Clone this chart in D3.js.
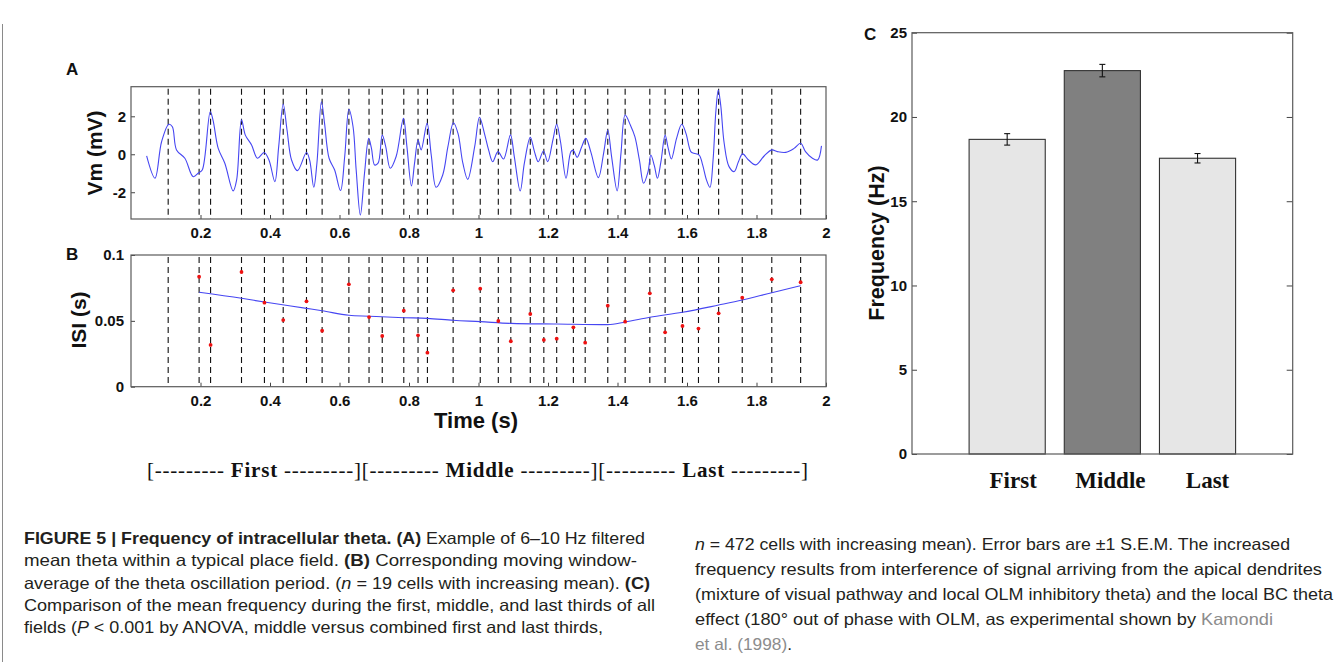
<!DOCTYPE html>
<html>
<head>
<meta charset="utf-8">
<script src="https://cdn.jsdelivr.net/npm/d3@7"></script>
<style>
  body { margin: 0; background: #fff; }
  svg { display: block; }
</style>
</head>
<body>
<svg id="fig" width="1341" height="662"></svg>
<script>
// ---- data ----
// panel A: filtered membrane potential (time in s, Vm in mV)
const traceT = [0.045, 0.069, 0.088, 0.109, 0.119, 0.131, 0.155, 0.179, 0.195, 0.205,
  0.228, 0.236, 0.251, 0.270, 0.294, 0.304, 0.318, 0.329, 0.347, 0.364,
  0.383, 0.397, 0.414, 0.425, 0.438, 0.449, 0.462, 0.479, 0.505, 0.514,
  0.526, 0.535, 0.548, 0.557, 0.570, 0.586, 0.603, 0.615, 0.627, 0.639,
  0.648, 0.660, 0.672, 0.684, 0.692, 0.701, 0.711, 0.723, 0.733, 0.746,
  0.763, 0.784, 0.794, 0.807, 0.816, 0.826, 0.835, 0.852, 0.864, 0.878,
  0.897, 0.912, 0.928, 0.941, 0.955, 0.969, 0.989, 1.003, 1.017, 1.029,
  1.041, 1.056, 1.072, 1.092, 1.103, 1.120, 1.132, 1.149, 1.161, 1.172,
  1.187, 1.199, 1.214, 1.225, 1.236, 1.252, 1.266, 1.273, 1.284, 1.297,
  1.309, 1.323, 1.345, 1.360, 1.372, 1.383, 1.399, 1.410, 1.422, 1.437,
  1.450, 1.463, 1.475, 1.488, 1.496, 1.506, 1.515, 1.525, 1.537, 1.546,
  1.555, 1.570, 1.585, 1.597, 1.611, 1.620, 1.635, 1.645, 1.656, 1.666,
  1.675, 1.683, 1.690, 1.697, 1.707, 1.721, 1.736, 1.748, 1.760, 1.777,
  1.798, 1.822, 1.844, 1.860, 1.884, 1.908, 1.927, 1.941, 1.961, 1.976, 1.987];
const traceV = [-0.09, -1.26, 0.66, 1.58, 1.45, 0.23, -0.21, -1.18, -0.97, -0.83,
  2.24, 1.80, 0.31, -0.47, -1.93, -1.35, 1.81, 1.01, 0.49, -0.21,
  0.09, -0.30, -1.44, 0.40, 2.65, 1.28, -0.30, -0.86, 0.09, -0.30,
  -1.74, -0.47, 2.77, 1.63, -0.21, -0.83, -1.91, -0.12, 2.37, 1.45,
  -0.83, -3.20, -1.00, 0.84, 0.31, -0.56, -0.47, 1.01, 0.40, -0.74,
  -0.12, 1.89, 0.40, -1.67, -0.47, 0.75, 0.23, 1.63, -0.04, -1.74,
  -1.09, 0.40, 1.66, 1.10, -0.47, -1.32, 0.40, 1.95, 1.10, 0.23,
  -0.39, 0.14, -0.25, 1.02, -0.12, -1.93, -0.47, 0.89, 0.14, -0.39,
  0.17, -0.39, 0.75, 1.58, 0.66, -1.26, 0.14, 0.20, -0.16, 0.40,
  0.84, 0.14, -1.23, 0.05, 1.28, -0.12, -1.93, 0.05, 2.07, 1.54,
  0.93, -0.30, -1.53, -0.91, -0.04, -0.60, -1.26, -0.39, 1.01, 0.31,
  -0.25, 0.84, 1.58, 1.10, 0.14, 0.05, -0.04, -0.56, -1.35, -1.74,
  -0.30, 2.24, 3.38, 2.59, 0.58, -0.65, -0.91, -0.39, 0.02, -0.30,
  -0.56, -0.09, 0.23, 0.14, 0.10, 0.31, 0.58, 0.14, -0.21, -0.30, 0.44];

// theta peak times (dashed lines, s)
const peakTimes = [0.107, 0.196, 0.229, 0.318, 0.384, 0.438, 0.505, 0.550, 0.627, 0.685,
  0.723, 0.785, 0.826, 0.853, 0.927, 1.005, 1.057, 1.093, 1.149, 1.188,
  1.225, 1.273, 1.307, 1.372, 1.422, 1.493, 1.537, 1.587, 1.633, 1.691,
  1.759, 1.844, 1.927];

// panel B: inter-peak interval at each peak after the first (s)
const isiValues = [0.0835, 0.0317, 0.0871, 0.0638, 0.0506, 0.0648, 0.0425, 0.0777, 0.0529,
  0.0385, 0.0577, 0.0390, 0.0258, 0.0732, 0.0744, 0.0499, 0.0345, 0.0552, 0.0355,
  0.0365, 0.0451, 0.0334, 0.0615, 0.0494, 0.0709, 0.0413, 0.0461, 0.0441, 0.0557,
  0.0676, 0.0815, 0.0793];

// panel B: moving window average
const avgT = [0.196, 0.318, 0.384, 0.505, 0.550, 0.627, 0.685, 0.785, 0.853, 0.927,
  1.005, 1.093, 1.225, 1.372, 1.422, 1.493, 1.587, 1.691, 1.759, 1.844, 1.927];
const avgV = [0.0717, 0.0671, 0.0643, 0.0595, 0.0577, 0.0542, 0.0535, 0.0524, 0.0519, 0.0504,
  0.0494, 0.0481, 0.0476, 0.0471, 0.0491, 0.0527, 0.0565, 0.0620, 0.0658, 0.0714, 0.0767];

// panel C
const thirds = ["First", "Middle", "Last"];
const freqMean = [18.67, 22.75, 17.55];
const freqSem = [0.34, 0.37, 0.28];
const barFill = ["#e6e6e6", "#808080", "#e6e6e6"];

const timeTicks = [0.2, 0.4, 0.6, 0.8, 1, 1.2, 1.4, 1.6, 1.8, 2];
const vmTicks = [-2, 0, 2];
const isiTicks = [0, 0.05, 0.1];
const freqTicks = [0, 5, 10, 15, 20, 25];

// ---- drawing ----
const svg = d3.select("#fig");
const sans = "Arial, 'Liberation Sans', Helvetica, sans-serif";
const serif = "'Times New Roman', 'Liberation Serif', serif";

svg.append("rect").attr("width", 1341).attr("height", 662).attr("fill", "#fff");
// page frame line on the left
svg.append("line").attr("x1", 2.5).attr("x2", 2.5).attr("y1", 24).attr("y2", 662)
  .attr("stroke", "#8a8a8a").attr("stroke-width", 1);

const xTime = d3.scaleLinear().domain([0, 2]).range([131, 826]);
const yVm = d3.scaleLinear().domain([-3.41, 3.56]).range([219, 86.7]);
const yIsi = d3.scaleLinear().domain([0, 0.1]).range([386.7, 255]);

function styleAxis(g, size) {
  g.attr("font-family", null);
  g.select(".domain").remove();
  g.selectAll(".tick line").attr("stroke", "#444");
  g.selectAll(".tick text")
    .attr("fill", "#111")
    .attr("font-family", sans)
    .attr("font-weight", "bold")
    .attr("font-size", size);
}

function frame(x0, y0, x1, y1) {
  svg.append("rect")
    .attr("x", x0).attr("y", y0).attr("width", x1 - x0).attr("height", y1 - y0)
    .attr("fill", "none").attr("stroke", "#5a5a5a").attr("stroke-width", 1.2);
}

function dashedPeaks(yScale) {
  svg.append("g").selectAll("line").data(peakTimes).join("line")
    .attr("x1", d => xTime(d)).attr("x2", d => xTime(d))
    .attr("y1", yScale.range()[1] + 2).attr("y2", yScale.range()[0])
    .attr("stroke", "#111").attr("stroke-width", 1.1)
    .attr("stroke-dasharray", "6,4");
}

function label(x, y, txt, size, rotate) {
  const t = svg.append("text")
    .attr("font-family", sans).attr("font-weight", "bold").attr("font-size", size)
    .attr("fill", "#111")
    .text(txt);
  if (rotate) {
    t.attr("transform", `translate(${x},${y}) rotate(-90)`).attr("text-anchor", "middle");
  } else {
    t.attr("x", x).attr("y", y);
  }
  return t;
}

// panel A
dashedPeaks(yVm);
const trace = traceT.map((t, i) => [t, traceV[i]]);
svg.append("path")
  .datum(trace)
  .attr("fill", "none")
  .attr("stroke", "#4646f2")
  .attr("stroke-width", 1.1)
  .attr("d", d3.line().x(d => xTime(d[0])).y(d => yVm(d[1])).curve(d3.curveCatmullRom.alpha(0.5)));

svg.append("g").attr("transform", "translate(0,219)")
  .call(d3.axisBottom(xTime).tickValues(timeTicks).tickSizeInner(-4).tickSizeOuter(0).tickPadding(8).tickFormat(d => d))
  .call(g => styleAxis(g, 15));
svg.append("g").attr("transform", "translate(131,0)")
  .call(d3.axisLeft(yVm).tickValues(vmTicks).tickSizeInner(-4).tickSizeOuter(0).tickPadding(5).tickFormat(d => d))
  .call(g => styleAxis(g, 15));
frame(131, 86.7, 826, 219);

label(102, 153, "Vm (mV)", 21, true);
label(66, 75, "A", 17);

// panel B
dashedPeaks(yIsi);
const avg = avgT.map((t, i) => [t, avgV[i]]);
svg.append("path")
  .datum(avg)
  .attr("fill", "none")
  .attr("stroke", "#4646f2")
  .attr("stroke-width", 1.1)
  .attr("d", d3.line().x(d => xTime(d[0])).y(d => yIsi(d[1])).curve(d3.curveMonotoneX));

const isiT = peakTimes.slice(1);
svg.append("g").selectAll("circle").data(isiValues).join("circle")
  .attr("cx", (d, i) => xTime(isiT[i]))
  .attr("cy", d => yIsi(d))
  .attr("r", 1.9)
  .attr("fill", "#ee1111");

svg.append("g").attr("transform", "translate(0,386.7)")
  .call(d3.axisBottom(xTime).tickValues(timeTicks).tickSizeInner(-4).tickSizeOuter(0).tickPadding(9).tickFormat(d => d))
  .call(g => styleAxis(g, 15));
svg.append("g").attr("transform", "translate(131,0)")
  .call(d3.axisLeft(yIsi).tickValues(isiTicks).tickSizeInner(-4).tickSizeOuter(0).tickPadding(7).tickFormat(d => d))
  .call(g => styleAxis(g, 15));
frame(131, 255, 826, 386.7);

label(86, 320, "ISI (s)", 21, true);
label(476, 428, "Time (s)", 22).attr("text-anchor", "middle");
label(66, 260, "B", 17);

// bracket line under panel B
const bracket = svg.append("text").attr("x", 147).attr("y", 477)
  .attr("textLength", 661).attr("lengthAdjust", "spacing")
  .attr("font-family", serif).attr("font-size", 21).attr("fill", "#111");
thirds.forEach(name => {
  bracket.append("tspan").text("[--------- ");
  bracket.append("tspan").attr("font-weight", "bold").text(name);
  bracket.append("tspan").text(" ---------]");
});

// panel C
const xBar = d3.scaleLinear().domain([0, 4]).range([912, 1292.7]);
const yFreq = d3.scaleLinear().domain([0, 25]).range([454, 32.7]);
const barW = xBar(0.8) - xBar(0);

svg.append("g").selectAll("rect").data(freqMean).join("rect")
  .attr("x", (d, i) => xBar(i + 1) - barW / 2)
  .attr("y", d => yFreq(d))
  .attr("width", barW)
  .attr("height", d => yFreq(0) - yFreq(d))
  .attr("fill", (d, i) => barFill[i])
  .attr("stroke", "#333").attr("stroke-width", 1.1);

const err = svg.append("g").attr("stroke", "#111").attr("stroke-width", 1.1);
freqMean.forEach((m, i) => {
  const cx = xBar(i + 1);
  err.append("line").attr("x1", cx).attr("x2", cx)
    .attr("y1", yFreq(m - freqSem[i])).attr("y2", yFreq(m + freqSem[i]));
  [m - freqSem[i], m + freqSem[i]].forEach(v => {
    err.append("line").attr("x1", cx - 3).attr("x2", cx + 3)
      .attr("y1", yFreq(v)).attr("y2", yFreq(v));
  });
});

svg.append("g").attr("transform", "translate(912,0)")
  .call(d3.axisLeft(yFreq).tickValues(freqTicks).tickSizeInner(-5).tickSizeOuter(0).tickPadding(5).tickFormat(d => d))
  .call(g => styleAxis(g, 15));
svg.append("g").attr("transform", "translate(1292.7,0)")
  .call(d3.axisRight(yFreq).tickValues(freqTicks).tickSizeInner(-6).tickSizeOuter(0).tickFormat(""))
  .call(g => styleAxis(g, 15));
frame(912, 32.7, 1292.7, 454);

svg.append("g").selectAll("text").data(thirds).join("text")
  .attr("x", (d, i) => xBar(i + 1) + 6 + i * 2)
  .attr("y", 488)
  .attr("text-anchor", "middle")
  .attr("font-family", serif).attr("font-weight", "bold").attr("font-size", 23)
  .attr("fill", "#111")
  .text(d => d);

label(884, 243, "Frequency (Hz)", 21.5, true);
label(864, 40, "C", 17);

// ---- caption ----
const capLeft = [
  [["b", "FIGURE 5 | Frequency of intracellular theta. (A)"], ["n", " Example of 6–10 Hz filtered"]],
  [["n", "mean theta within a typical place field. "], ["b", "(B)"], ["n", " Corresponding moving window-"]],
  [["n", "average of the theta oscillation period. ("], ["i", "n"], ["n", " = 19 cells with increasing mean). "], ["b", "(C)"]],
  [["n", "Comparison of the mean frequency during the first, middle, and last thirds of all"]],
  [["n", "fields ("], ["i", "P"], ["n", " < 0.001 by ANOVA, middle versus combined first and last thirds,"]]
];
const capLeftW = [621, 613, 626, 631, 579];
const capRight = [
  [["i", "n"], ["n", " = 472 cells with increasing mean). Error bars are ±1 S.E.M. The increased"]],
  [["n", "frequency results from interference of signal arriving from the apical dendrites"]],
  [["n", "(mixture of visual pathway and local OLM inhibitory theta) and the local BC theta"]],
  [["n", "effect (180° out of phase with OLM, as experimental shown by "], ["g", "Kamondi"]],
  [["g", "et al. (1998)"], ["n", "."]]
];
const capRightW = [595, 627, 638, 578, 97];

function caption(lines, widths, x, y0, step) {
  lines.forEach((segs, li) => {
    const t = svg.append("text")
      .attr("x", x).attr("y", y0 + li * step)
      .attr("textLength", widths[li]).attr("lengthAdjust", "spacingAndGlyphs")
      .attr("font-family", "'Liberation Sans Narrow', Arial, 'Liberation Sans', sans-serif")
      .attr("font-size", 16.5)
      .attr("fill", "#231f20");
    segs.forEach(([k, s]) => {
      const sp = t.append("tspan").text(s);
      if (k === "b") sp.attr("font-weight", "bold");
      if (k === "i") sp.attr("font-style", "italic");
      if (k === "g") sp.attr("fill", "#8c8c8c");
    });
  });
}
caption(capLeft, capLeftW, 24, 544, 22.3);
caption(capRight, capRightW, 695, 550, 25);
</script>
</body>
</html>
